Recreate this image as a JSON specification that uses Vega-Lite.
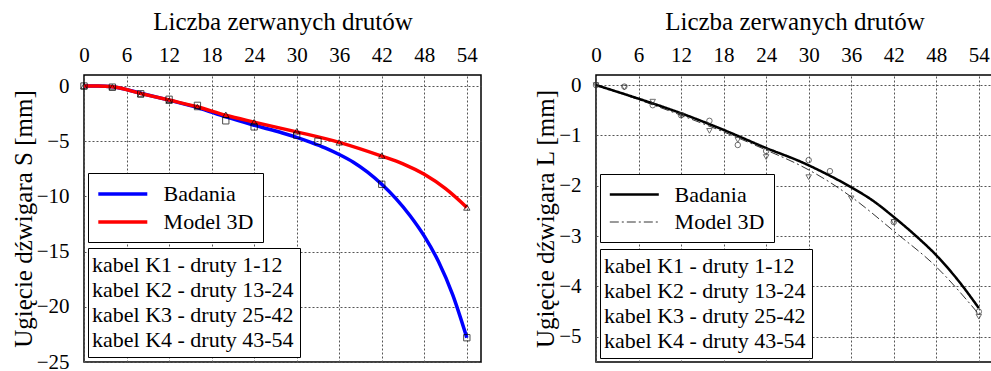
{
  "$schema": "https://vega.github.io/schema/vega-lite/v6.json",
  "padding": {"left": 10, "top": 8, "right": 0, "bottom": 0},
  "background": "white",
  "config": {
    "font": "Liberation Serif",
    "view": {"stroke": "black", "strokeWidth": 1.5},
    "axis": {
      "labelFont": "Liberation Serif", "labelFontSize": 21, "labelColor": "black",
      "titleFont": "Liberation Serif", "titleFontSize": 25, "titleFontWeight": "normal", "titleColor": "black",
      "domain": false, "ticks": false, "labelFlush": false, "labelOverlap": false, "labelBound": false,
      "gridColor": "#555555", "gridDash": [2, 2], "gridOpacity": 1, "gridWidth": 1,
      "labelPadding": 10, "titlePadding": 10
    },
    "axisY": {"labelPadding": 15, "titlePadding": 0},
    "legend": {
      "title": null, "orient": "none", "strokeColor": "black", "fillColor": "white", "padding": 8,
      "labelFont": "Liberation Serif", "labelFontSize": 22, "labelColor": "black", "labelLimit": 400,
      "cornerRadius": 0, "rowPadding": 4
    }
  },
  "spacing": 50,
  "resolve": {"scale": {"color": "independent", "shape": "independent", "strokeDash": "independent", "strokeWidth": "independent"}, "legend": {"color": "independent", "strokeDash": "independent", "strokeWidth": "independent"}},
  "hconcat": [
    {
      "width": 397, "height": 287,
      "resolve": {"scale": {"color": "independent"}, "legend": {"color": "independent"}},
      "layer": [
        {
          "data": {"values": [
            {"series": "Badania", "x": 0, "y": 0}, {"series": "Badania", "x": 2, "y": 0}, {"series": "Badania", "x": 4, "y": -0.07},
            {"series": "Badania", "x": 8, "y": -0.65}, {"series": "Badania", "x": 12, "y": -1.28}, {"series": "Badania", "x": 16, "y": -1.95},
            {"series": "Badania", "x": 20, "y": -2.8}, {"series": "Badania", "x": 24, "y": -3.55}, {"series": "Badania", "x": 28, "y": -4.25},
            {"series": "Badania", "x": 30, "y": -4.65}, {"series": "Badania", "x": 32, "y": -5.1}, {"series": "Badania", "x": 34, "y": -5.6},
            {"series": "Badania", "x": 36, "y": -6.2}, {"series": "Badania", "x": 38, "y": -6.9}, {"series": "Badania", "x": 40, "y": -7.8},
            {"series": "Badania", "x": 42, "y": -8.9}, {"series": "Badania", "x": 44, "y": -10.2}, {"series": "Badania", "x": 46, "y": -11.75},
            {"series": "Badania", "x": 48, "y": -13.6}, {"series": "Badania", "x": 50, "y": -15.9}, {"series": "Badania", "x": 52, "y": -18.9},
            {"series": "Badania", "x": 54, "y": -22.8},
            {"series": "Model 3D", "x": 0, "y": 0}, {"series": "Model 3D", "x": 2, "y": 0}, {"series": "Model 3D", "x": 4, "y": -0.06},
            {"series": "Model 3D", "x": 8, "y": -0.67}, {"series": "Model 3D", "x": 12, "y": -1.27}, {"series": "Model 3D", "x": 16, "y": -1.88},
            {"series": "Model 3D", "x": 20, "y": -2.65}, {"series": "Model 3D", "x": 24, "y": -3.27}, {"series": "Model 3D", "x": 30, "y": -4.15},
            {"series": "Model 3D", "x": 36, "y": -5.1}, {"series": "Model 3D", "x": 42, "y": -6.35}, {"series": "Model 3D", "x": 45, "y": -7.05},
            {"series": "Model 3D", "x": 48, "y": -8.0}, {"series": "Model 3D", "x": 51, "y": -9.3}, {"series": "Model 3D", "x": 54, "y": -11.0}
          ]},
          "mark": {"type": "line", "interpolate": "monotone", "strokeWidth": 3.5},
          "encoding": {
            "x": {"field": "x", "type": "quantitative", "scale": {"domain": [0, 56], "nice": false},
                  "axis": {"orient": "top", "values": [0, 6, 12, 18, 24, 30, 36, 42, 48, 54], "title": "Liczba zerwanych drutów"}},
            "y": {"field": "y", "type": "quantitative", "scale": {"domain": [-25, 1], "nice": false},
                  "axis": {"values": [0, -5, -10, -15, -20, -25], "title": "Ugięcie dźwigara S [mm]"}},
            "color": {"field": "series", "type": "nominal", "scale": {"domain": ["Badania", "Model 3D"], "range": ["#0000ff", "#ff0000"]},
                      "legend": {"legendX": 4, "legendY": 98, "symbolType": "M-2.45,0H2.45", "symbolSize": 400, "symbolStrokeWidth": 3.5, "symbolOffset": 13.8, "labelOffset": 28.8, "rowPadding": 5, "padding": 9}}
          }
        },
        {
          "data": {"values": [
            {"s": "B", "x": 0, "y": 0}, {"s": "B", "x": 4, "y": -0.1}, {"s": "B", "x": 8, "y": -0.7},
            {"s": "B", "x": 12, "y": -1.2}, {"s": "B", "x": 16, "y": -1.75}, {"s": "B", "x": 20, "y": -3.15},
            {"s": "B", "x": 24, "y": -3.7}, {"s": "B", "x": 30, "y": -4.45}, {"s": "B", "x": 33, "y": -5.0},
            {"s": "B", "x": 42, "y": -8.9}, {"s": "B", "x": 54, "y": -22.8},
            {"s": "M", "x": 0, "y": 0}, {"s": "M", "x": 4, "y": -0.1}, {"s": "M", "x": 8, "y": -0.75},
            {"s": "M", "x": 12, "y": -1.33}, {"s": "M", "x": 16, "y": -1.9}, {"s": "M", "x": 20, "y": -2.6},
            {"s": "M", "x": 24, "y": -3.27}, {"s": "M", "x": 30, "y": -4.1}, {"s": "M", "x": 36, "y": -5.1},
            {"s": "M", "x": 42, "y": -6.3}, {"s": "M", "x": 54, "y": -11.0}
          ]},
          "mark": {"type": "point", "filled": false, "color": "black", "size": 40, "strokeWidth": 1},
          "encoding": {
            "x": {"field": "x", "type": "quantitative"},
            "y": {"field": "y", "type": "quantitative"},
            "shape": {"field": "s", "type": "nominal", "scale": {"domain": ["B", "M"], "range": ["square", "triangle-up"]}, "legend": null}
          }
        },
        {
          "data": {"values": [
            {"k": "kabel K1 - druty 1-12"}, {"k": "kabel K2 - druty 13-24"}, {"k": "kabel K3 - druty 25-42"}, {"k": "kabel K4 - druty 43-54"}
          ]},
          "mark": {"type": "point", "opacity": 0},
          "encoding": {
            "color": {"field": "k", "type": "nominal", "scale": {"range": ["white"]},
                      "legend": {"legendX": 4, "legendY": 173, "symbolSize": 0.01, "symbolStrokeWidth": 0, "symbolOpacity": 0, "labelOffset": -24, "padding": 6, "rowPadding": 3}}
          }
        }
      ]
    },
    {
      "width": 397, "height": 287,
      "resolve": {"scale": {"color": "independent"}, "legend": {"color": "independent"}},
      "layer": [
        {
          "data": {"values": [
            {"series": "Badania", "x": 0, "y": 0}, {"series": "Badania", "x": 6, "y": -0.27}, {"series": "Badania", "x": 12, "y": -0.56},
            {"series": "Badania", "x": 18, "y": -0.89}, {"series": "Badania", "x": 24, "y": -1.25}, {"series": "Badania", "x": 29, "y": -1.53},
            {"series": "Badania", "x": 32, "y": -1.73}, {"series": "Badania", "x": 36, "y": -2.03}, {"series": "Badania", "x": 39, "y": -2.29},
            {"series": "Badania", "x": 42, "y": -2.62}, {"series": "Badania", "x": 45, "y": -2.98}, {"series": "Badania", "x": 48, "y": -3.38},
            {"series": "Badania", "x": 51.2, "y": -3.9}, {"series": "Badania", "x": 54, "y": -4.43},
            {"series": "Model 3D", "x": 0, "y": 0}, {"series": "Model 3D", "x": 6, "y": -0.29}, {"series": "Model 3D", "x": 12, "y": -0.6},
            {"series": "Model 3D", "x": 18, "y": -0.93}, {"series": "Model 3D", "x": 24, "y": -1.29}, {"series": "Model 3D", "x": 29, "y": -1.61},
            {"series": "Model 3D", "x": 32.3, "y": -1.87}, {"series": "Model 3D", "x": 36, "y": -2.22}, {"series": "Model 3D", "x": 42, "y": -2.9},
            {"series": "Model 3D", "x": 48, "y": -3.61}, {"series": "Model 3D", "x": 54, "y": -4.55}
          ]},
          "mark": {"type": "line", "interpolate": "monotone", "color": "black"},
          "encoding": {
            "x": {"field": "x", "type": "quantitative", "scale": {"domain": [0, 56], "nice": false},
                  "axis": {"orient": "top", "values": [0, 6, 12, 18, 24, 30, 36, 42, 48, 54], "title": "Liczba zerwanych drutów"}},
            "y": {"field": "y", "type": "quantitative", "scale": {"domain": [-5.5, 0.2], "nice": false},
                  "axis": {"values": [0, -1, -2, -3, -4, -5], "title": "Ugięcie dźwigara L [mm]"}},
            "strokeDash": {"field": "series", "type": "nominal", "scale": {"domain": ["Badania", "Model 3D"], "range": [[1, 0], [9, 3, 2, 3]]},
                           "legend": {"legendX": 4, "legendY": 99, "symbolType": "M-2.45,0H2.45", "symbolSize": 400, "symbolOffset": 13.8, "labelOffset": 28.8, "rowPadding": 5, "padding": 9}},
            "strokeWidth": {"field": "series", "type": "nominal", "scale": {"domain": ["Badania", "Model 3D"], "range": [2.5, 0.8]},
                           "legend": {"legendX": 4, "legendY": 99, "symbolType": "M-2.45,0H2.45", "symbolSize": 400, "symbolOffset": 13.8, "labelOffset": 28.8, "rowPadding": 5, "padding": 9}}
          }
        },
        {
          "data": {"values": [
            {"s": "B", "x": 0, "y": 0}, {"s": "B", "x": 4, "y": -0.03}, {"s": "B", "x": 8, "y": -0.4},
            {"s": "B", "x": 12, "y": -0.6}, {"s": "B", "x": 16, "y": -0.71}, {"s": "B", "x": 20, "y": -1.19},
            {"s": "B", "x": 24, "y": -1.31}, {"s": "B", "x": 30, "y": -1.49}, {"s": "B", "x": 33, "y": -1.71},
            {"s": "B", "x": 42, "y": -2.72}, {"s": "B", "x": 54, "y": -4.5},
            {"s": "M", "x": 0, "y": 0}, {"s": "M", "x": 4, "y": -0.05}, {"s": "M", "x": 8, "y": -0.33},
            {"s": "M", "x": 12, "y": -0.6}, {"s": "M", "x": 16, "y": -0.91}, {"s": "M", "x": 20, "y": -1.09},
            {"s": "M", "x": 24, "y": -1.43}, {"s": "M", "x": 30, "y": -1.83}, {"s": "M", "x": 36, "y": -2.25},
            {"s": "M", "x": 42, "y": -2.72}, {"s": "M", "x": 54, "y": -4.6}
          ]},
          "mark": {"type": "point", "filled": false, "color": "#333333", "size": 30, "strokeWidth": 1},
          "encoding": {
            "x": {"field": "x", "type": "quantitative"},
            "y": {"field": "y", "type": "quantitative"},
            "shape": {"field": "s", "type": "nominal", "scale": {"domain": ["B", "M"], "range": ["circle", "triangle-down"]}, "legend": null}
          }
        },
        {
          "data": {"values": [
            {"k": "kabel K1 - druty 1-12"}, {"k": "kabel K2 - druty 13-24"}, {"k": "kabel K3 - druty 25-42"}, {"k": "kabel K4 - druty 43-54"}
          ]},
          "mark": {"type": "point", "opacity": 0},
          "encoding": {
            "color": {"field": "k", "type": "nominal", "scale": {"range": ["white"]},
                      "legend": {"legendX": 4, "legendY": 174, "symbolSize": 0.01, "symbolStrokeWidth": 0, "symbolOpacity": 0, "labelOffset": -24, "padding": 6, "rowPadding": 3}}
          }
        }
      ]
    }
  ]
}
